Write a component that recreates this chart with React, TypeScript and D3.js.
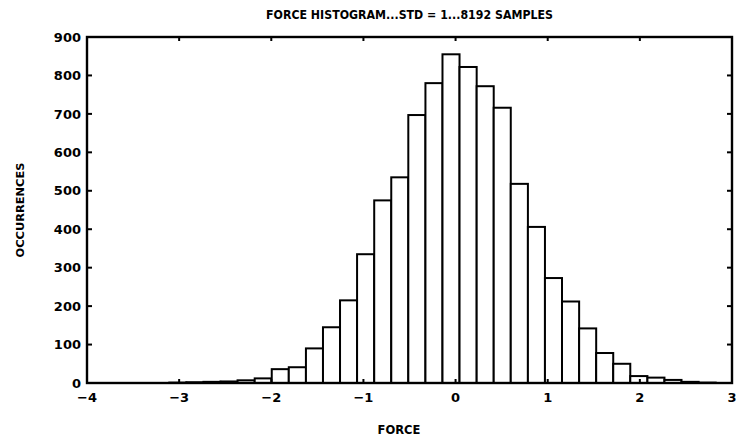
import React from "react";
import * as d3 from "d3";

// Histogram bin edges (force units) and counts per bin
const binEdges = [
  -3.107, -2.922, -2.736, -2.551, -2.366, -2.18, -1.995, -1.81, -1.624, -1.439,
  -1.254, -1.069, -0.883, -0.698, -0.513, -0.327, -0.142, 0.043, 0.229, 0.414,
  0.599, 0.785, 0.97, 1.155, 1.341, 1.526, 1.711, 1.896, 2.082, 2.267, 2.452,
  2.638, 2.823,
];
const counts = [
  1, 2, 3, 4, 7, 12, 36, 41, 90, 145, 215, 335, 475, 535, 697, 780, 855, 822,
  772, 716, 518, 406, 273, 212, 142, 78, 50, 18, 14, 8, 3, 1,
];
const xTicks = [-4, -3, -2, -1, 0, 1, 2, 3];
const yTicks = [0, 100, 200, 300, 400, 500, 600, 700, 800, 900];
const title = "FORCE HISTOGRAM...STD = 1...8192 SAMPLES";
const xLabel = "FORCE";
const yLabel = "OCCURRENCES";

const W = 747;
const H = 445;
const M = { left: 87, right: 732, top: 37, bottom: 383 };
const FONT = "'DejaVu Sans', sans-serif";

export default function App() {
  const x = d3.scaleLinear().domain([-4, 3]).range([M.left, M.right]);
  const y = d3.scaleLinear().domain([0, 900]).range([M.bottom, M.top]);
  const bins = counts.map((c, i) => ({ x0: binEdges[i], x1: binEdges[i + 1], c }));
  const fmt = (v: number) => (v < 0 ? "\u2212" + Math.abs(v) : String(v));

  return (
    <svg
      width={W}
      height={H}
      style={{ position: "absolute", left: 0, top: 0, background: "#fff" }}
      fontFamily={FONT}
      fontWeight="bold"
    >
      <rect x={0} y={0} width={W} height={H} fill="#fff" />
      {bins.map((b, i) => (
        <rect
          key={i}
          x={x(b.x0)}
          y={y(b.c)}
          width={x(b.x1) - x(b.x0)}
          height={y(0) - y(b.c)}
          fill="#fff"
          stroke="#000"
          strokeWidth={2}
        />
      ))}
      <rect
        x={M.left}
        y={M.top}
        width={M.right - M.left}
        height={M.bottom - M.top}
        fill="none"
        stroke="#000"
        strokeWidth={2.4}
      />
      {yTicks.map((t) => (
        <g key={"y" + t}>
          <line x1={M.left} x2={M.left + 5} y1={y(t)} y2={y(t)} stroke="#000" strokeWidth={2} />
          <line x1={M.right} x2={M.right - 5} y1={y(t)} y2={y(t)} stroke="#000" strokeWidth={2} />
          <text x={81} y={y(t)} dy="0.36em" textAnchor="end" fontSize={13} fill="#000">
            {t}
          </text>
        </g>
      ))}
      {xTicks.map((t) => (
        <g key={"x" + t}>
          <line x1={x(t)} x2={x(t)} y1={M.top} y2={M.top + 4} stroke="#000" strokeWidth={2} />
          <line x1={x(t)} x2={x(t)} y1={M.bottom} y2={M.bottom - 4} stroke="#000" strokeWidth={2} />
          <text x={x(t)} y={402} textAnchor="middle" fontSize={13} fill="#000">
            {fmt(t)}
          </text>
        </g>
      ))}
      <text
        x={(M.left + M.right) / 2}
        y={19}
        textAnchor="middle"
        fontSize={12.5}
        textLength={287}
        lengthAdjust="spacingAndGlyphs"
        fill="#000"
      >
        {title}
      </text>
      <text x={399} y={434} textAnchor="middle" fontSize={11.5} fill="#000">
        {xLabel}
      </text>
      <text
        transform={`translate(24,${(M.top + M.bottom) / 2}) rotate(-90)`}
        textAnchor="middle"
        fontSize={11}
        textLength={95}
        lengthAdjust="spacingAndGlyphs"
        fill="#000"
      >
        {yLabel}
      </text>
    </svg>
  );
}
